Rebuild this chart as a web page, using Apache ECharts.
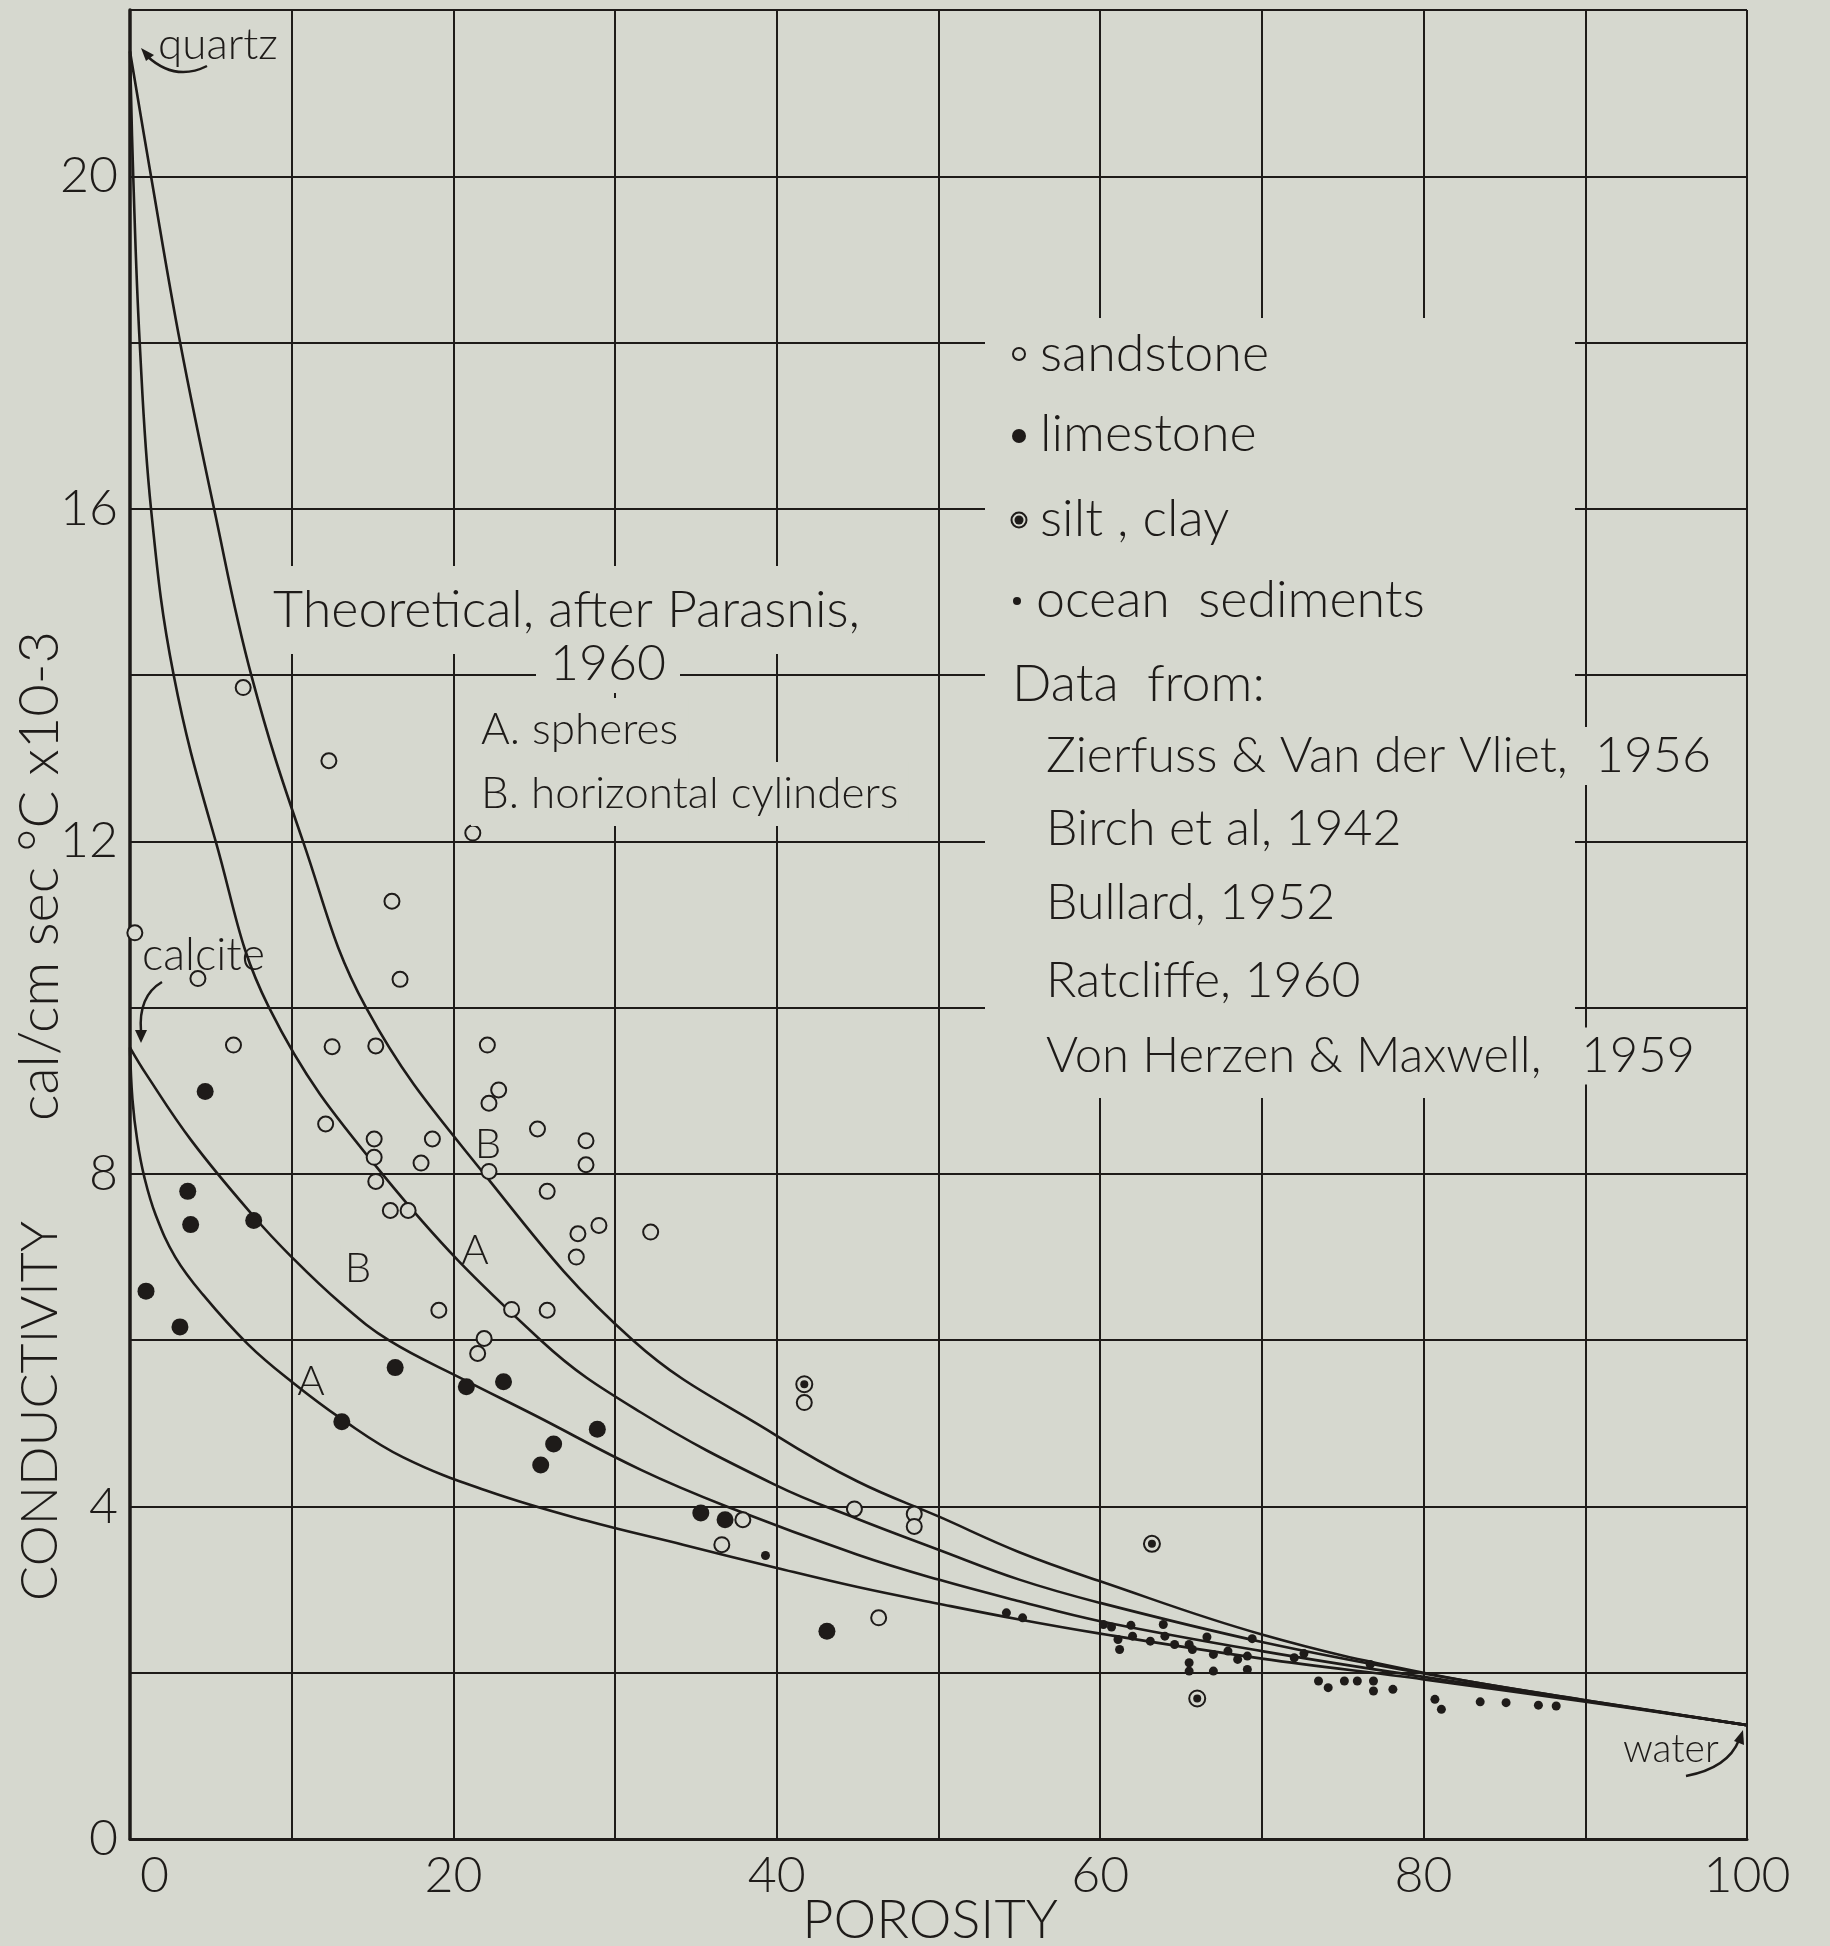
<!DOCTYPE html>
<html><head><meta charset="utf-8">
<script src="https://cdn.jsdelivr.net/npm/echarts@6/dist/echarts.min.js"></script>
<style>html,body{margin:0;padding:0;background:#d6d8cf;}#c{width:1830px;height:1946px;}</style>
</head><body><div id="c"></div>
<script>
// ---- data ----
const xTickLabels = [0, 20, 40, 60, 80, 100];
const yTickLabels = [0, 4, 8, 12, 16, 20];

// theoretical curves (porosity %, conductivity)
const quartzB = [[0,21.5],[1.3,20],[3.1,18],[5.2,16],[7.5,14],[10.7,12],[14.6,10],[21.9,8],[31.1,6],[40,4.85],[45,4.3],[50,3.88],[55,3.45],[60,3.1],[70,2.46],[80,2.0],[90,1.67],[100,1.37]];
const quartzA = [[0,21.5],[0.2,20],[0.6,18],[1.3,16],[2.7,14],[5.3,12],[8.6,10],[15.6,8],[25.4,6.0],[31.6,5.13],[40,4.25],[45,3.85],[50,3.48],[55,3.12],[60,2.84],[70,2.37],[80,1.99],[90,1.67],[100,1.37]];
const calciteB = [[0,9.52],[1,9.2],[3.8,8.4],[7.6,7.5],[10,7.0],[13,6.45],[16,6.0],[20.7,5.52],[25,5.1],[31.6,4.44],[36.9,4.0],[45,3.42],[50,3.12],[55,2.86],[60,2.62],[70,2.26],[80,1.95],[90,1.66],[100,1.37]];
const calciteA = [[0,9.52],[0.15,8.9],[0.45,8.4],[0.9,7.95],[1.6,7.5],[2.8,7.0],[4.5,6.55],[7.3,5.95],[10,5.5],[13.1,5.05],[16.9,4.59],[22.2,4.18],[28.2,3.83],[34.2,3.54],[40,3.26],[45,3.03],[50,2.83],[55,2.64],[60,2.47],[70,2.17],[80,1.92],[90,1.65],[100,1.37]];

const sandstone = [[0.3,10.9],[7.0,13.85],[12.3,12.97],[21.2,12.1],[16.2,11.28],[4.2,10.35],[16.7,10.34],[6.4,9.55],[12.5,9.53],[15.2,9.54],[22.1,9.55],[22.8,9.01],[22.2,8.85],[12.1,8.6],[15.1,8.42],[18.7,8.42],[25.2,8.54],[28.2,8.4],[15.1,8.2],[18.0,8.13],[28.2,8.11],[22.2,8.03],[15.2,7.91],[25.8,7.79],[16.1,7.56],[17.2,7.56],[29.0,7.38],[27.7,7.28],[32.2,7.3],[27.6,7.0],[19.1,6.36],[23.6,6.37],[25.8,6.36],[21.9,6.02],[21.5,5.84],[41.7,5.25],[37.9,3.84],[36.6,3.54],[44.8,3.97],[48.5,3.91],[48.5,3.76],[46.3,2.66]];
const limestone = [[4.65,8.99],[3.57,7.79],[3.75,7.39],[7.65,7.44],[0.99,6.59],[3.09,6.16],[16.4,5.67],[20.8,5.44],[23.1,5.5],[13.1,5.02],[28.9,4.93],[26.2,4.75],[25.4,4.5],[35.3,3.92],[36.8,3.84],[43.1,2.5]];
const siltClay = [[41.7,5.47],[63.2,3.55],[66.0,1.69]];
const oceanSediments = [[39.3,3.41],[54.2,2.72],[55.2,2.66],[60.2,2.58],[60.7,2.55],[61.1,2.4],[61.2,2.28],[61.9,2.57],[62.0,2.44],[63.1,2.38],[63.9,2.58],[64.0,2.44],[64.6,2.34],[65.5,2.34],[65.7,2.28],[65.5,2.12],[65.5,2.02],[66.6,2.43],[67.0,2.22],[67.0,2.02],[67.9,2.26],[68.5,2.16],[69.1,2.2],[69.1,2.04],[69.4,2.41],[72.0,2.18],[72.6,2.23],[73.5,1.9],[74.1,1.82],[75.1,1.9],[75.9,1.9],[76.7,2.1],[76.9,1.9],[76.9,1.78],[78.1,1.8],[80.7,1.68],[81.1,1.56],[83.5,1.65],[85.1,1.64],[87.1,1.61],[88.2,1.6]];

// ---- styling ----
const BG = '#d6d8cf';
const INK = '#1e1b19';
const FF = 'Lato, "DejaVu Sans", sans-serif';
const FW = 300;

function txt(text, x, y, size, align, opts) {
  opts = opts || {};
  return {
    type: 'text', x: x, y: y, z: opts.z || 5, rotation: opts.rotation || 0,
    style: {
      text: text, fill: INK, fontSize: size, fontFamily: FF, fontWeight: FW,
      textAlign: align || 'left', textVerticalAlign: 'middle',
      align: align || 'left', verticalAlign: 'middle',
      backgroundColor: opts.bg ? BG : null, padding: opts.bg ? (opts.pad || [4, 10]) : 0
    }
  };
}
function arrow(p0, cp, p1, tip, b1, b2) {
  return [
    {type: 'bezierCurve', z: 5, shape: {x1: p0[0], y1: p0[1], cpx1: cp[0], cpy1: cp[1], x2: p1[0], y2: p1[1]}, style: {stroke: INK, lineWidth: 2.5, fill: null}},
    {type: 'polygon', z: 5, shape: {points: [tip, b1, b2]}, style: {fill: INK}}
  ];
}

const graphics = [
  // legend block background (gaps in grid)
  {type: 'rect', z: 1, shape: {x: 985, y: 318, width: 590, height: 780}, style: {fill: BG}},
  // legend symbols
  {type: 'circle', z: 5, shape: {cx: 1019, cy: 354, r: 6}, style: {fill: BG, stroke: INK, lineWidth: 2}},
  {type: 'circle', z: 5, shape: {cx: 1019, cy: 436, r: 7}, style: {fill: INK}},
  {type: 'circle', z: 5, shape: {cx: 1019, cy: 520, r: 7.5}, style: {fill: BG, stroke: INK, lineWidth: 2}},
  {type: 'circle', z: 5, shape: {cx: 1019, cy: 520, r: 4.5}, style: {fill: INK}},
  {type: 'circle', z: 5, shape: {cx: 1017, cy: 601, r: 4}, style: {fill: INK}},
  txt('sandstone', 1040, 354, 52, 'left'),
  txt('limestone', 1040, 434, 52, 'left'),
  txt('silt , clay', 1040, 519, 52, 'left'),
  txt('ocean  sediments', 1036, 600, 52, 'left'),
  txt('Data  from:', 1012, 684, 52, 'left'),
  txt('Zierfuss & Van der Vliet,  1956', 1036, 756, 50, 'left', {bg: true}),
  txt('Birch et al, 1942', 1046, 829, 50, 'left'),
  txt('Bullard, 1952', 1046, 903, 50, 'left'),
  txt('Ratcliffe, 1960', 1046, 981, 50, 'left'),
  txt('Von Herzen & Maxwell,   1959', 1036, 1056, 49, 'left', {bg: true}),
  // theoretical block
  txt('Theoretical, after Parasnis,', 263, 610, 52, 'left', {bg: true, pad: [14, 10, 22, 10]}),
  txt('1960', 608, 664, 50, 'center', {bg: true, pad: [4, 14]}),
  txt('A. spheres', 471, 730, 44, 'left', {bg: true, pad: [10, 10]}),
  txt('B. horizontal cylinders', 471, 794, 44, 'left', {bg: true, pad: [10, 10]}),
  // curve labels
  txt('B', 488, 1144, 42, 'center', {bg: true, pad: [2, 4], z: 2}),
  txt('A', 475, 1250, 42, 'center', {bg: true, pad: [2, 4], z: 2}),
  txt('B', 358, 1268, 42, 'center', {bg: true, pad: [2, 4], z: 2}),
  txt('A', 311, 1381, 42, 'center', {bg: true, pad: [2, 4], z: 2}),
  // end-member labels
  txt('quartz', 158, 45, 44, 'left'),
  txt('calcite', 142, 955, 45, 'left'),
  txt('water', 1623, 1749, 39, 'left'),
  // axis names
  txt('CONDUCTIVITY', 40, 1411, 52, 'center', {rotation: Math.PI / 2}),
  txt('cal/cm sec \u00B0C x10-3', 40, 876, 56, 'center', {rotation: Math.PI / 2}),
  txt('POROSITY', 930, 1921, 54, 'center')
]
.concat(arrow([207, 66], [175, 82], [147, 56], [141, 48], [154, 55], [146, 61]))
.concat(arrow([162, 982], [138, 996], [141, 1032], [141, 1043], [135, 1030], [147, 1030]))
.concat(arrow([1686, 1776], [1728, 1768], [1739, 1740], [1743, 1730], [1744, 1745], [1734, 1741]));

const chart = echarts.init(document.getElementById('c'), null, {renderer: 'canvas'});
const lineS = (name, data) => ({
  name: name, type: 'line', data: data, showSymbol: false, smooth: 0.4,
  lineStyle: {color: INK, width: 2.6}, z: 3, silent: true
});
chart.setOption({
  backgroundColor: BG,
  animation: false,
  grid: {left: 130, top: 10, right: 83, bottom: 107, containLabel: false, outerBoundsMode: 'none'},
  xAxis: {
    type: 'value', min: 0, max: 100, interval: 10,
    axisLine: {show: true, onZero: false, lineStyle: {color: INK, width: 3}},
    axisTick: {show: false},
    splitLine: {show: true, lineStyle: {color: INK, width: 2}},
    axisLabel: {
      formatter: v => v === 0 ? '{z|0}' : (xTickLabels.indexOf(v) >= 0 ? String(v) : ''),
      rich: {z: {fontSize: 50, fontFamily: FF, fontWeight: FW, color: INK, padding: [0, 0, 0, 10]}},
      fontSize: 50, fontFamily: FF, fontWeight: FW, color: INK, margin: 12, alignMinLabel: 'left'
    }
  },
  yAxis: {
    type: 'value', min: 0, max: 22, interval: 2,
    axisLine: {show: true, onZero: false, lineStyle: {color: INK, width: 3.5}},
    axisTick: {show: false},
    splitLine: {show: true, lineStyle: {color: INK, width: 2}},
    axisLabel: {
      formatter: v => yTickLabels.indexOf(v) >= 0 ? String(v) : '',
      fontSize: 50, fontFamily: FF, fontWeight: FW, color: INK, margin: 12
    }
  },
  series: [
    lineS('quartz B', quartzB),
    lineS('quartz A', quartzA),
    lineS('calcite B', calciteB),
    lineS('calcite A', calciteA),
    {name: 'sandstone', type: 'scatter', data: sandstone, symbol: 'circle', symbolSize: 15, z: 4,
      itemStyle: {color: BG, borderColor: INK, borderWidth: 2, opacity: 1}},
    {name: 'limestone', type: 'scatter', data: limestone, symbol: 'circle', symbolSize: 17, z: 4,
      itemStyle: {color: INK, opacity: 1}},
    {name: 'silt, clay ring', type: 'scatter', data: siltClay, symbol: 'circle', symbolSize: 16, z: 4,
      itemStyle: {color: BG, borderColor: INK, borderWidth: 2, opacity: 1}},
    {name: 'silt, clay', type: 'scatter', data: siltClay, symbol: 'circle', symbolSize: 8, z: 5,
      itemStyle: {color: INK, opacity: 1}},
    {name: 'ocean sediments', type: 'scatter', data: oceanSediments, symbol: 'circle', symbolSize: 9, z: 4,
      itemStyle: {color: INK, opacity: 1}}
  ],
  graphic: {elements: graphics}
});
</script>
</body></html>
